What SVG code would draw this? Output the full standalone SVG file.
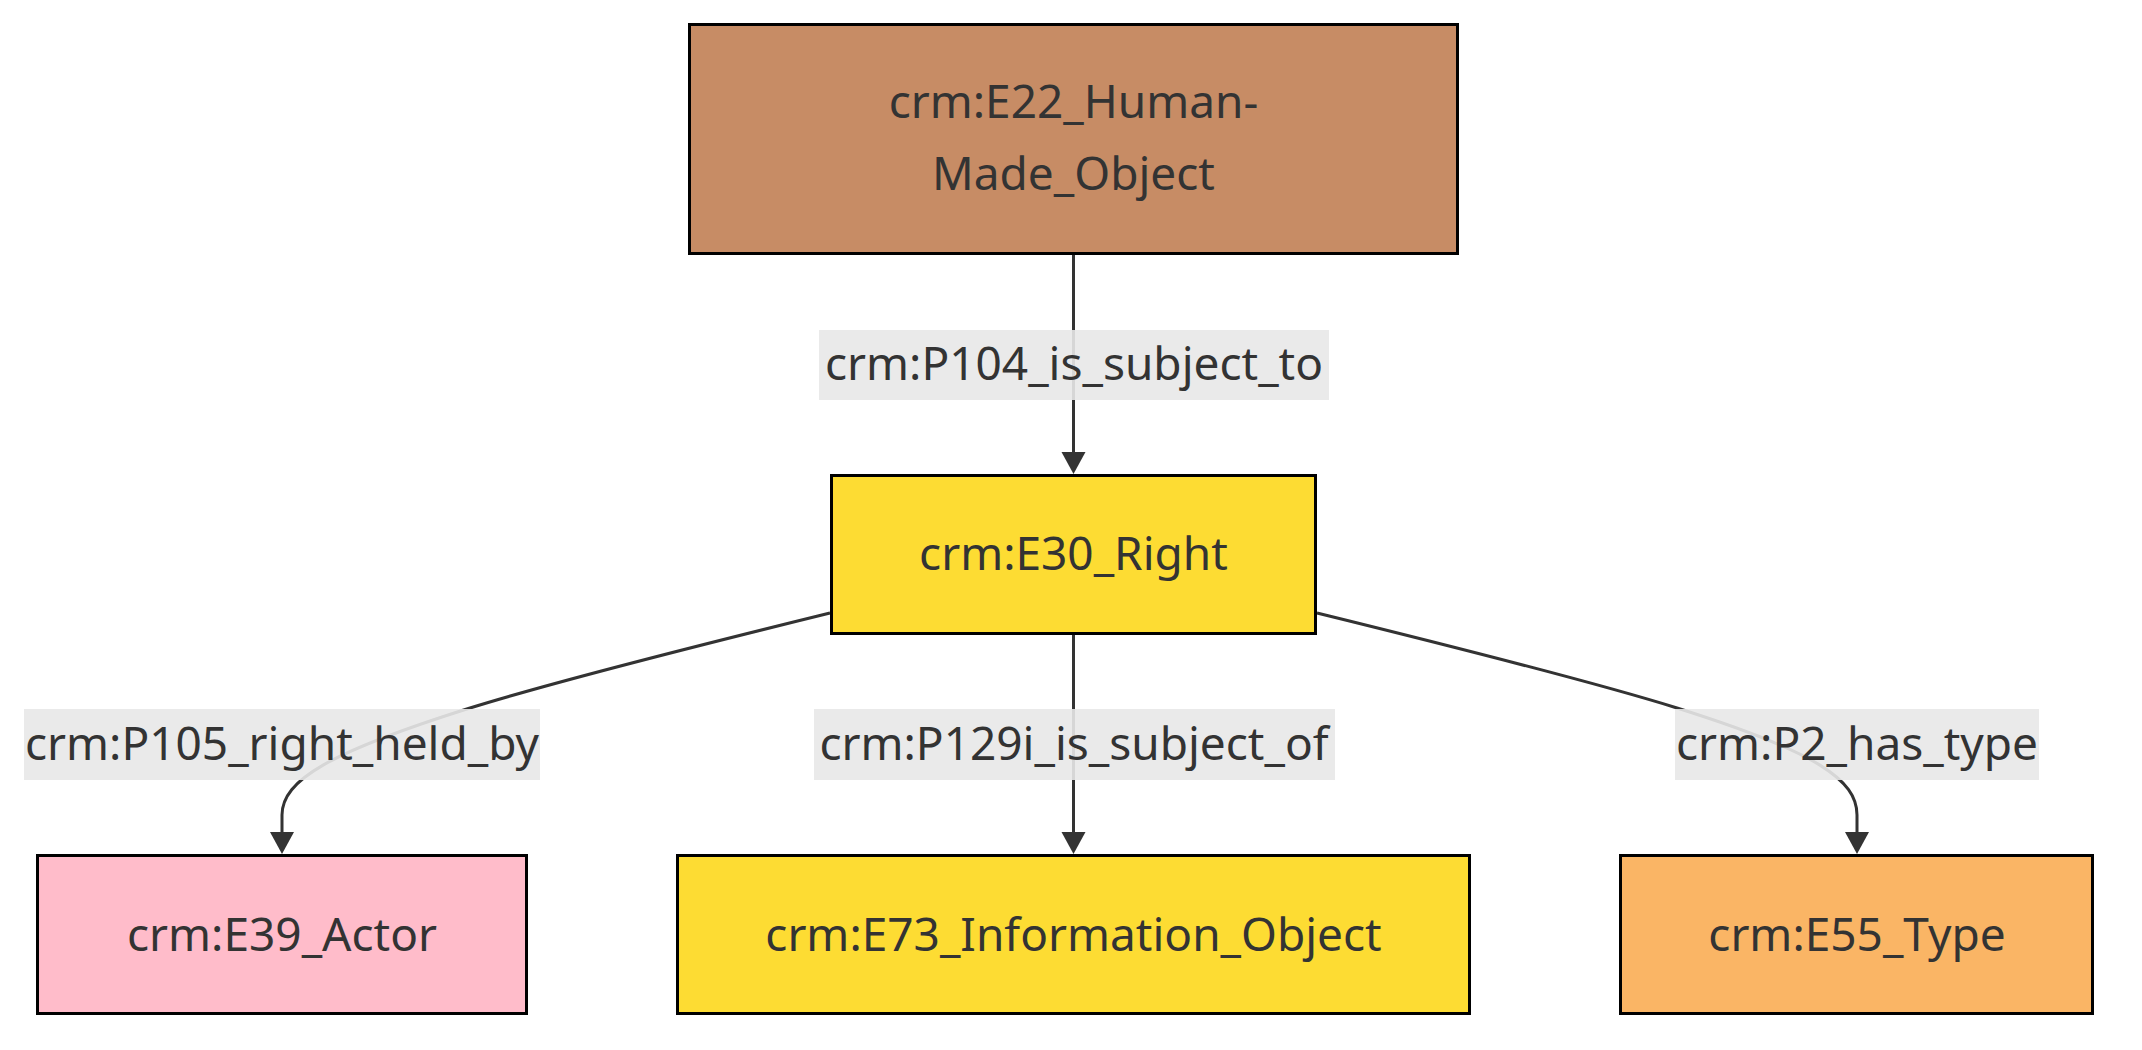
<svg xmlns="http://www.w3.org/2000/svg" width="2142" height="1050" viewBox="0 0 2142 1050">
  <style>
    .node rect { stroke: #000; stroke-width: 3; }
    .node text, .label text { font-family: "Noto Sans", "DejaVu Sans", sans-serif; font-size: 46px; fill: #333; text-anchor: middle; }
    .edge { fill: none; stroke: #333; stroke-width: 3; }
    .label rect { fill: #e8e8e8; fill-opacity: 0.9; }
  </style>
  <defs>
    <marker id="arrow" markerUnits="userSpaceOnUse" markerWidth="24" markerHeight="26" viewBox="0 0 24 26" refX="0" refY="13" orient="auto">
      <path d="M0,1 L22,13 L0,25 z" fill="#333"/>
    </marker>
  </defs>

  <rect width="2142" height="1050" fill="#fff"/>

  <!-- connectors -->
  <g id="connectors">
    <path class="edge" d="M1073.5,255 L1073.5,452" marker-end="url(#arrow)"/>
    <path class="edge" d="M830,613 C700,645 560,680 470,708 C330,752 282,780 282,815 L282,832" marker-end="url(#arrow)"/>
    <path class="edge" d="M1073.5,635 L1073.5,832" marker-end="url(#arrow)"/>
    <path class="edge" d="M1317,613 C1447,645 1587,680 1677,708 C1817,752 1857,780 1857,815 L1857,832" marker-end="url(#arrow)"/>
  </g>

  <!-- edge labels -->
  <g id="edge-labels">
    <g class="label" id="label-p104">
      <rect x="819" y="330" width="510" height="70"/>
      <text x="1074" y="380">crm:P104_is_subject_to</text>
    </g>
    <g class="label" id="label-p105">
      <rect x="24" y="709" width="516" height="71"/>
      <text x="282" y="760">crm:P105_right_held_by</text>
    </g>
    <g class="label" id="label-p129i">
      <rect x="814" y="709" width="521" height="71"/>
      <text x="1074" y="760">crm:P129i_is_subject_of</text>
    </g>
    <g class="label" id="label-p2">
      <rect x="1675" y="709" width="364" height="71"/>
      <text x="1857" y="760">crm:P2_has_type</text>
    </g>
  </g>

  <!-- nodes -->
  <g class="node" id="node-e22">
    <rect x="689.5" y="24.5" width="768" height="229" fill="#c78c65"/>
    <text x="1073.5" y="118">crm:E22_Human-</text>
    <text x="1073.5" y="190">Made_Object</text>
  </g>
  <g class="node" id="node-e30">
    <rect x="831.5" y="475.5" width="484" height="158" fill="#fddc33"/>
    <text x="1073.5" y="570">crm:E30_Right</text>
  </g>
  <g class="node" id="node-e39">
    <rect x="37.5" y="855.5" width="489" height="158" fill="#ffbcca"/>
    <text x="282" y="951">crm:E39_Actor</text>
  </g>
  <g class="node" id="node-e73">
    <rect x="677.5" y="855.5" width="792" height="158" fill="#fddc33"/>
    <text x="1073.5" y="951">crm:E73_Information_Object</text>
  </g>
  <g class="node" id="node-e55">
    <rect x="1620.5" y="855.5" width="472" height="158" fill="#fab565"/>
    <text x="1857" y="951">crm:E55_Type</text>
  </g>
</svg>
